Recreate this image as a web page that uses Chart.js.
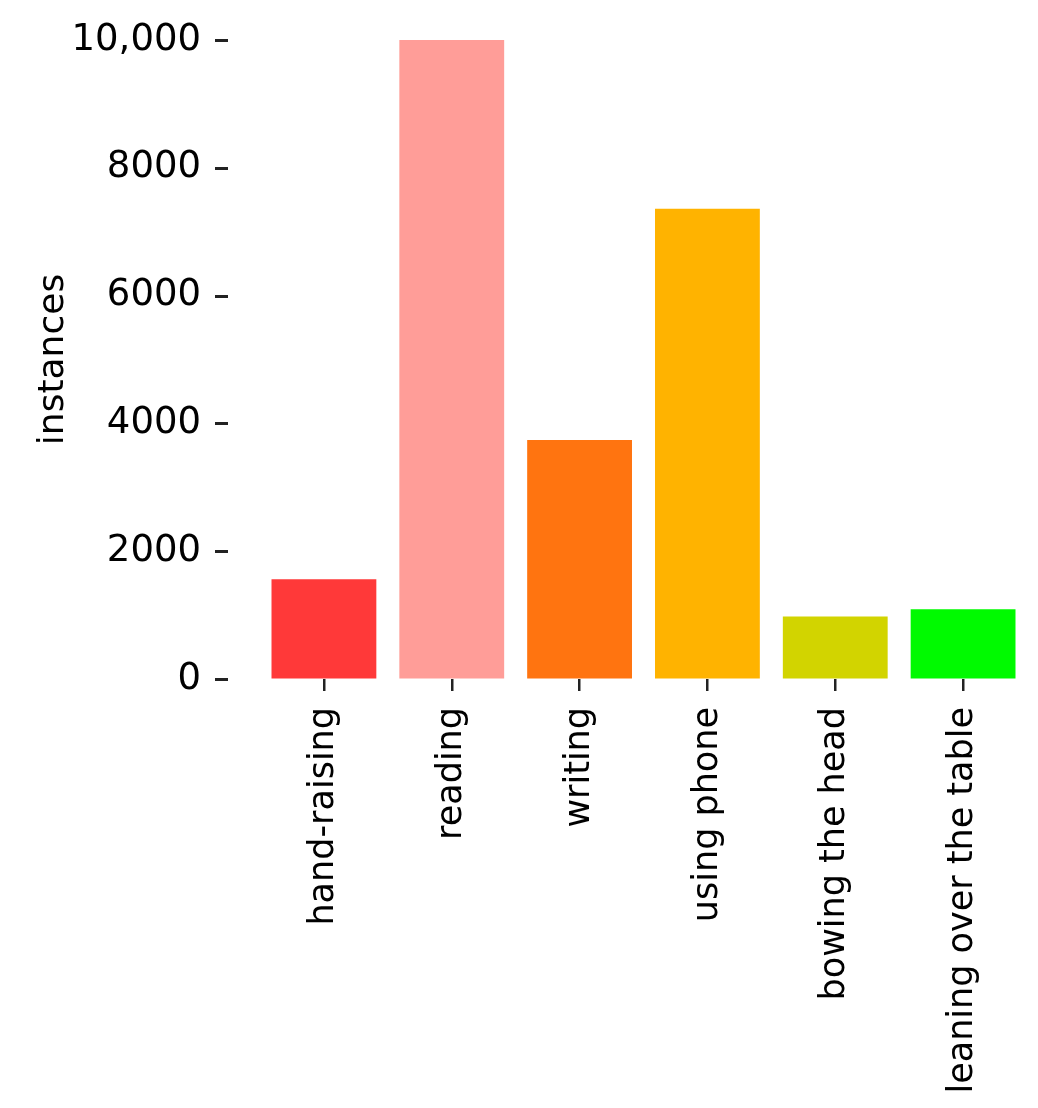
<!DOCTYPE html>
<html>
<head>
<meta charset="utf-8">
<script src="https://cdn.jsdelivr.net/npm/chart.js@4.4.1/dist/chart.umd.min.js"></script>
<style>
   html, body { margin: 0; padding: 0; background: #ffffff; }
   #wrap { width: 1038px; height: 1108px; }
</style>
</head>
<body>
<div id="wrap"><canvas id="behaviorChart" width="1038" height="1108"></canvas></div>
<script>
var behaviors = ["hand-raising", "reading", "writing", "using phone", "bowing the head", "leaning over the table"];
var instances = [1560, 10000, 3740, 7360, 980, 1090];
var barColors = ["#ff3939", "#ff9d98", "#ff7410", "#ffb300", "#d2d400", "#00fa00"];
var yTickValues = [0, 2000, 4000, 6000, 8000, 10000];
var yTickLabels = ["0", "2000", "4000", "6000", "8000", "10,000"];

var font = "'DejaVu Sans', sans-serif";

// short tick dashes sitting away from the plot, like the seaborn offset spines
var yTickMarks = {
   id: "yTickMarks",
   afterDraw: function (chart) {
      var yScale = chart.scales.y;
      var ctx = chart.ctx;
      var left = chart.chartArea.left;
      ctx.save();
      ctx.strokeStyle = "#222222";
      ctx.lineWidth = 3;
      for (let i = 0; i < yTickValues.length; i++) {
         var py = Math.round(yScale.getPixelForValue(yTickValues[i])) + 0.5;
         ctx.beginPath();
         ctx.moveTo(left - 45, py);
         ctx.lineTo(left - 32, py);
         ctx.stroke();
      }
      ctx.restore();
   },
};

var ctx = document.getElementById("behaviorChart").getContext("2d");
var chart = new Chart(ctx, {
   type: "bar",
   data: {
      labels: behaviors,
      datasets: [
         {
            label: "instances",
            data: instances,
            backgroundColor: barColors,
            borderWidth: 0,
            barPercentage: 0.82,
            categoryPercentage: 1.0,
         },
      ],
   },
   options: {
      responsive: false,
      animation: false,
      layout: { padding: { top: 40, right: 11, bottom: 0, left: 0 } },
      plugins: {
         legend: { display: false },
         tooltip: { enabled: false },
      },
      scales: {
         x: {
            afterFit: function (scale) {
               scale.height = 429;
            },
            grid: {
               display: true,
               offset: false,
               drawOnChartArea: false,
               drawTicks: true,
               tickLength: 12,
               color: "#222222",
               lineWidth: 2.5,
            },
            border: { display: false },
            ticks: {
               minRotation: 90,
               maxRotation: 90,
               autoSkip: false,
               padding: 16,
               color: "#000000",
               font: { family: font, size: 35 },
            },
         },
         y: {
            min: 0,
            max: 10000,
            afterFit: function (scale) {
               scale.width = 260;
            },
            afterBuildTicks: function (scale) {
               scale.ticks = yTickValues.map(function (v) {
                  return { value: v };
               });
            },
            // invisible tick marks only push the labels left
            grid: {
               display: true,
               drawOnChartArea: false,
               drawTicks: true,
               tickLength: 59,
               color: "rgba(0,0,0,0)",
            },
            border: { display: false },
            ticks: {
               padding: 0,
               color: "#000000",
               font: { family: font, size: 37 },
               callback: function (value) {
                  var i = yTickValues.indexOf(value);
                  return i >= 0 ? yTickLabels[i] : "";
               },
            },
            title: {
               display: true,
               text: "instances",
               color: "#000000",
               font: { family: font, size: 36 },
               padding: { top: 32, bottom: 0 },
            },
         },
      },
   },
   plugins: [yTickMarks],
});
</script>
</body>
</html>
